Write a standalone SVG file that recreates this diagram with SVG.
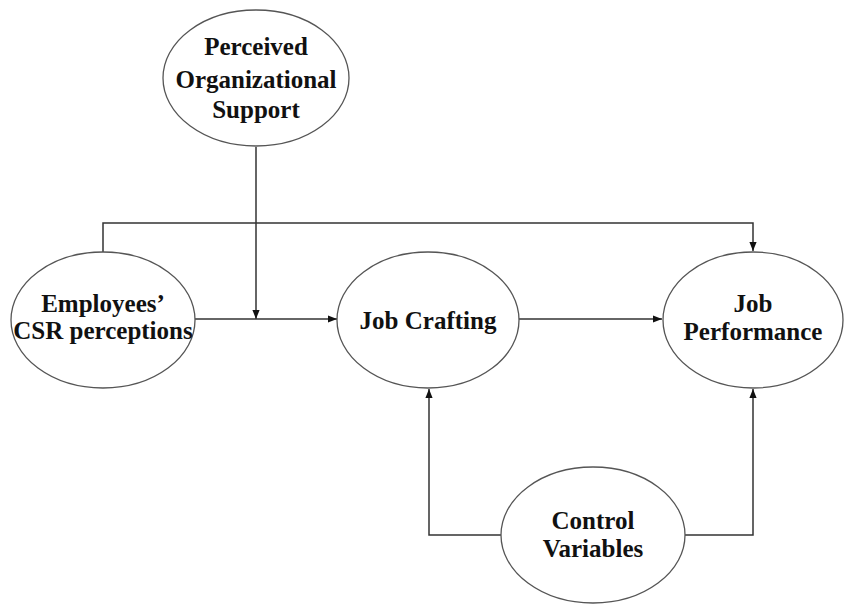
<svg xmlns="http://www.w3.org/2000/svg" width="844" height="605" viewBox="0 0 844 605">
<style>
.node ellipse{fill:#fff;stroke:#555;stroke-width:1.3}
.node text{font-family:"Liberation Serif","DejaVu Serif",serif;font-weight:bold;font-size:25px;fill:#111;text-anchor:middle}
.conn path{fill:none;stroke:#333;stroke-width:1.5}
</style>
<defs>
<marker id="arr" viewBox="0 0 10 10" refX="10" refY="5" markerWidth="9" markerHeight="9" markerUnits="userSpaceOnUse" orient="auto">
<path d="M0,1 L10,5 L0,9 Z" fill="#111"/>
</marker>
</defs>
<rect width="844" height="605" fill="#fff"/>
<g class="conn">
<path d="M256,147 V319" marker-end="url(#arr)"/>
<path d="M195,319 H337" marker-end="url(#arr)"/>
<path d="M103,252 V223 H753 V251" marker-end="url(#arr)"/>
<path d="M519,319 H662" marker-end="url(#arr)"/>
<path d="M501,535 H429 V389" marker-end="url(#arr)"/>
<path d="M684,535 H753 V389" marker-end="url(#arr)"/>
</g>
<g id="pos" class="node">
<ellipse cx="256" cy="78" rx="93" ry="68"/>
<text x="256" y="55">Perceived</text>
<text x="256" y="88">Organizational</text>
<text x="256" y="118">Support</text>
</g>
<g id="csr" class="node">
<ellipse cx="103" cy="320" rx="92" ry="68"/>
<text x="103" y="312">Employees’</text>
<text x="103" y="339">CSR perceptions</text>
</g>
<g id="jc" class="node">
<ellipse cx="428" cy="320" rx="91" ry="68"/>
<text x="428" y="329">Job Crafting</text>
</g>
<g id="jp" class="node">
<ellipse cx="753" cy="320" rx="90" ry="68"/>
<text x="753" y="312">Job</text>
<text x="753" y="340">Performance</text>
</g>
<g id="cv" class="node">
<ellipse cx="593" cy="535" rx="92" ry="68"/>
<text x="593" y="529">Control</text>
<text x="593" y="557">Variables</text>
</g>
</svg>
